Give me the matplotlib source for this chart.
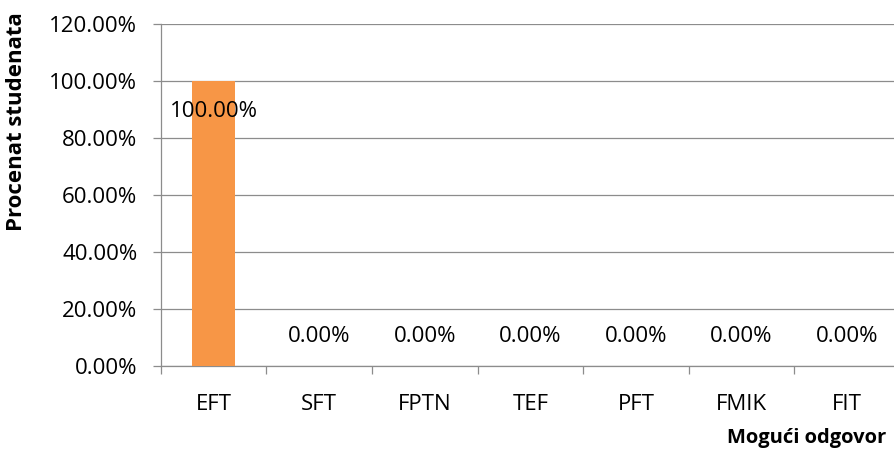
import matplotlib
matplotlib.use("Agg")
import matplotlib.pyplot as plt
from matplotlib.ticker import PercentFormatter

categories = ["EFT", "SFT", "FPTN", "TEF", "PFT", "FMIK", "FIT"]
values = [100.0, 0.0, 0.0, 0.0, 0.0, 0.0, 0.0]
y_ticks = [0, 20, 40, 60, 80, 100, 120]

plt.rcParams['font.family'] = ['Open Sans', 'DejaVu Sans']

gray = '#8C8C8C'
fs = 16

fig = plt.figure(figsize=(8.94, 4.53), dpi=100)
ax = fig.add_axes([0.180, 0.192, 0.8266, 0.755])

x = list(range(len(categories)))
ax.bar(x, values, width=0.41, color='#F79646', zorder=3)

# data labels (Excel style: inside end for full bar, above for zero)
for xi, v in zip(x, values):
    if v > 0:
        ax.annotate(f"{v:.2f}%", (xi, v), xytext=(0, -22), textcoords='offset points',
                    ha='center', va='center', fontsize=fs, color='black', zorder=4)
    else:
        ax.annotate(f"{v:.2f}%", (xi, v), xytext=(0, 21), textcoords='offset points',
                    ha='center', va='center', fontsize=fs, color='black', zorder=4)

ax.set_xlim(-0.5, len(categories) - 0.5)
ax.set_ylim(0, 120)
ax.set_yticks(y_ticks)
ax.yaxis.set_major_formatter(PercentFormatter(decimals=2))
ax.yaxis.grid(True, color=gray, lw=0.9, zorder=0)

# category labels centered, tick marks on boundaries
ax.set_xticks(x)
ax.set_xticklabels(categories)
ax.set_xticks([i - 0.5 for i in range(len(categories) + 1)], minor=True)
ax.tick_params(axis='x', which='major', length=0, pad=20, labelsize=fs)
ax.tick_params(axis='x', which='minor', length=6, width=0.9, color=gray, direction='out')
ax.tick_params(axis='y', length=6, width=0.9, color=gray, pad=11, labelsize=fs)

for s in ['top', 'right']:
    ax.spines[s].set_visible(False)
for s in ['left', 'bottom']:
    ax.spines[s].set_color(gray)
    ax.spines[s].set_linewidth(0.9)

fig.text(17 / 894, 1 - 122 / 453, "Procenat studenata", rotation=90, ha='center', va='center',
         fontsize=fs, fontweight='bold')
fig.text(886 / 894, 1 - 438 / 453, "Mogući odgovor", ha='right', va='center',
         fontsize=14.5, fontweight='bold')

fig.savefig("out.png", dpi=100)
